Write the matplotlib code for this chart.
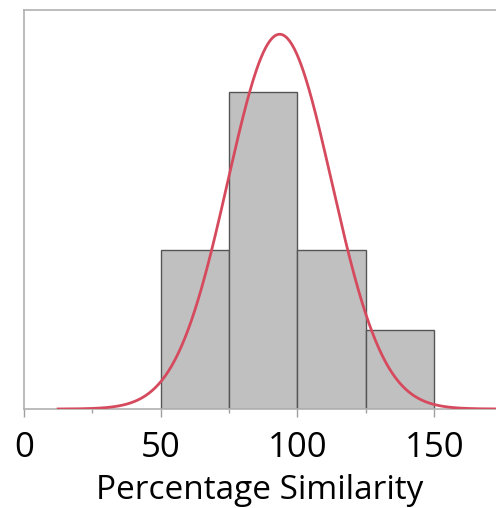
import numpy as np
import matplotlib
matplotlib.use("Agg")
import matplotlib.pyplot as plt

# histogram bins
bin_edges = [50, 75, 100, 125, 150]
counts = [2, 4, 2, 1]

# fitted normal curve (read from the peak position and height)
fit_mean = 93.5
fit_sd = 19.0
curve_start, curve_end = 12.5, 175

x_ticks = [0, 50, 100, 150]
x_minor = [25, 75, 125]
x_label = "Percentage Similarity"

plt.rcParams['font.family'] = ['Open Sans', 'DejaVu Sans']

fig = plt.figure(figsize=(4.96, 5.08), dpi=100)
ax = fig.add_axes([24 / 496, 1 - 409 / 508, 1 - 24 / 496, (409 - 10) / 508])

widths = np.diff(bin_edges)
ax.bar(bin_edges[:-1], counts, width=widths, align='edge',
       color='#c0c0c0', edgecolor='#555555', linewidth=1.0, zorder=2)

xs = np.linspace(curve_start, curve_end, 400)
area = sum(counts) * widths[0]
ys = area / (fit_sd * np.sqrt(2 * np.pi)) * np.exp(-0.5 * ((xs - fit_mean) / fit_sd) ** 2)
ax.plot(xs, ys, color='#d64a5e', linewidth=2.0, zorder=3)

ax.set_xlim(0, 172.6)
ax.set_ylim(0, 5.03)
ax.set_xticks(x_ticks)
ax.set_xticks(x_minor, minor=True)
ax.set_yticks([])
ax.tick_params(axis='x', which='major', length=6, width=1, color='#a0a0a0',
               labelsize=25, pad=10)
ax.tick_params(axis='x', which='minor', length=3, width=1, color='#a0a0a0')
ax.set_xlabel(x_label, fontsize=24, labelpad=6)

for side in ['left', 'top', 'bottom']:
    ax.spines[side].set_color('#b0b0b0')
    ax.spines[side].set_linewidth(1.2)
ax.spines['right'].set_visible(False)

fig.savefig("out.png", dpi=100)
